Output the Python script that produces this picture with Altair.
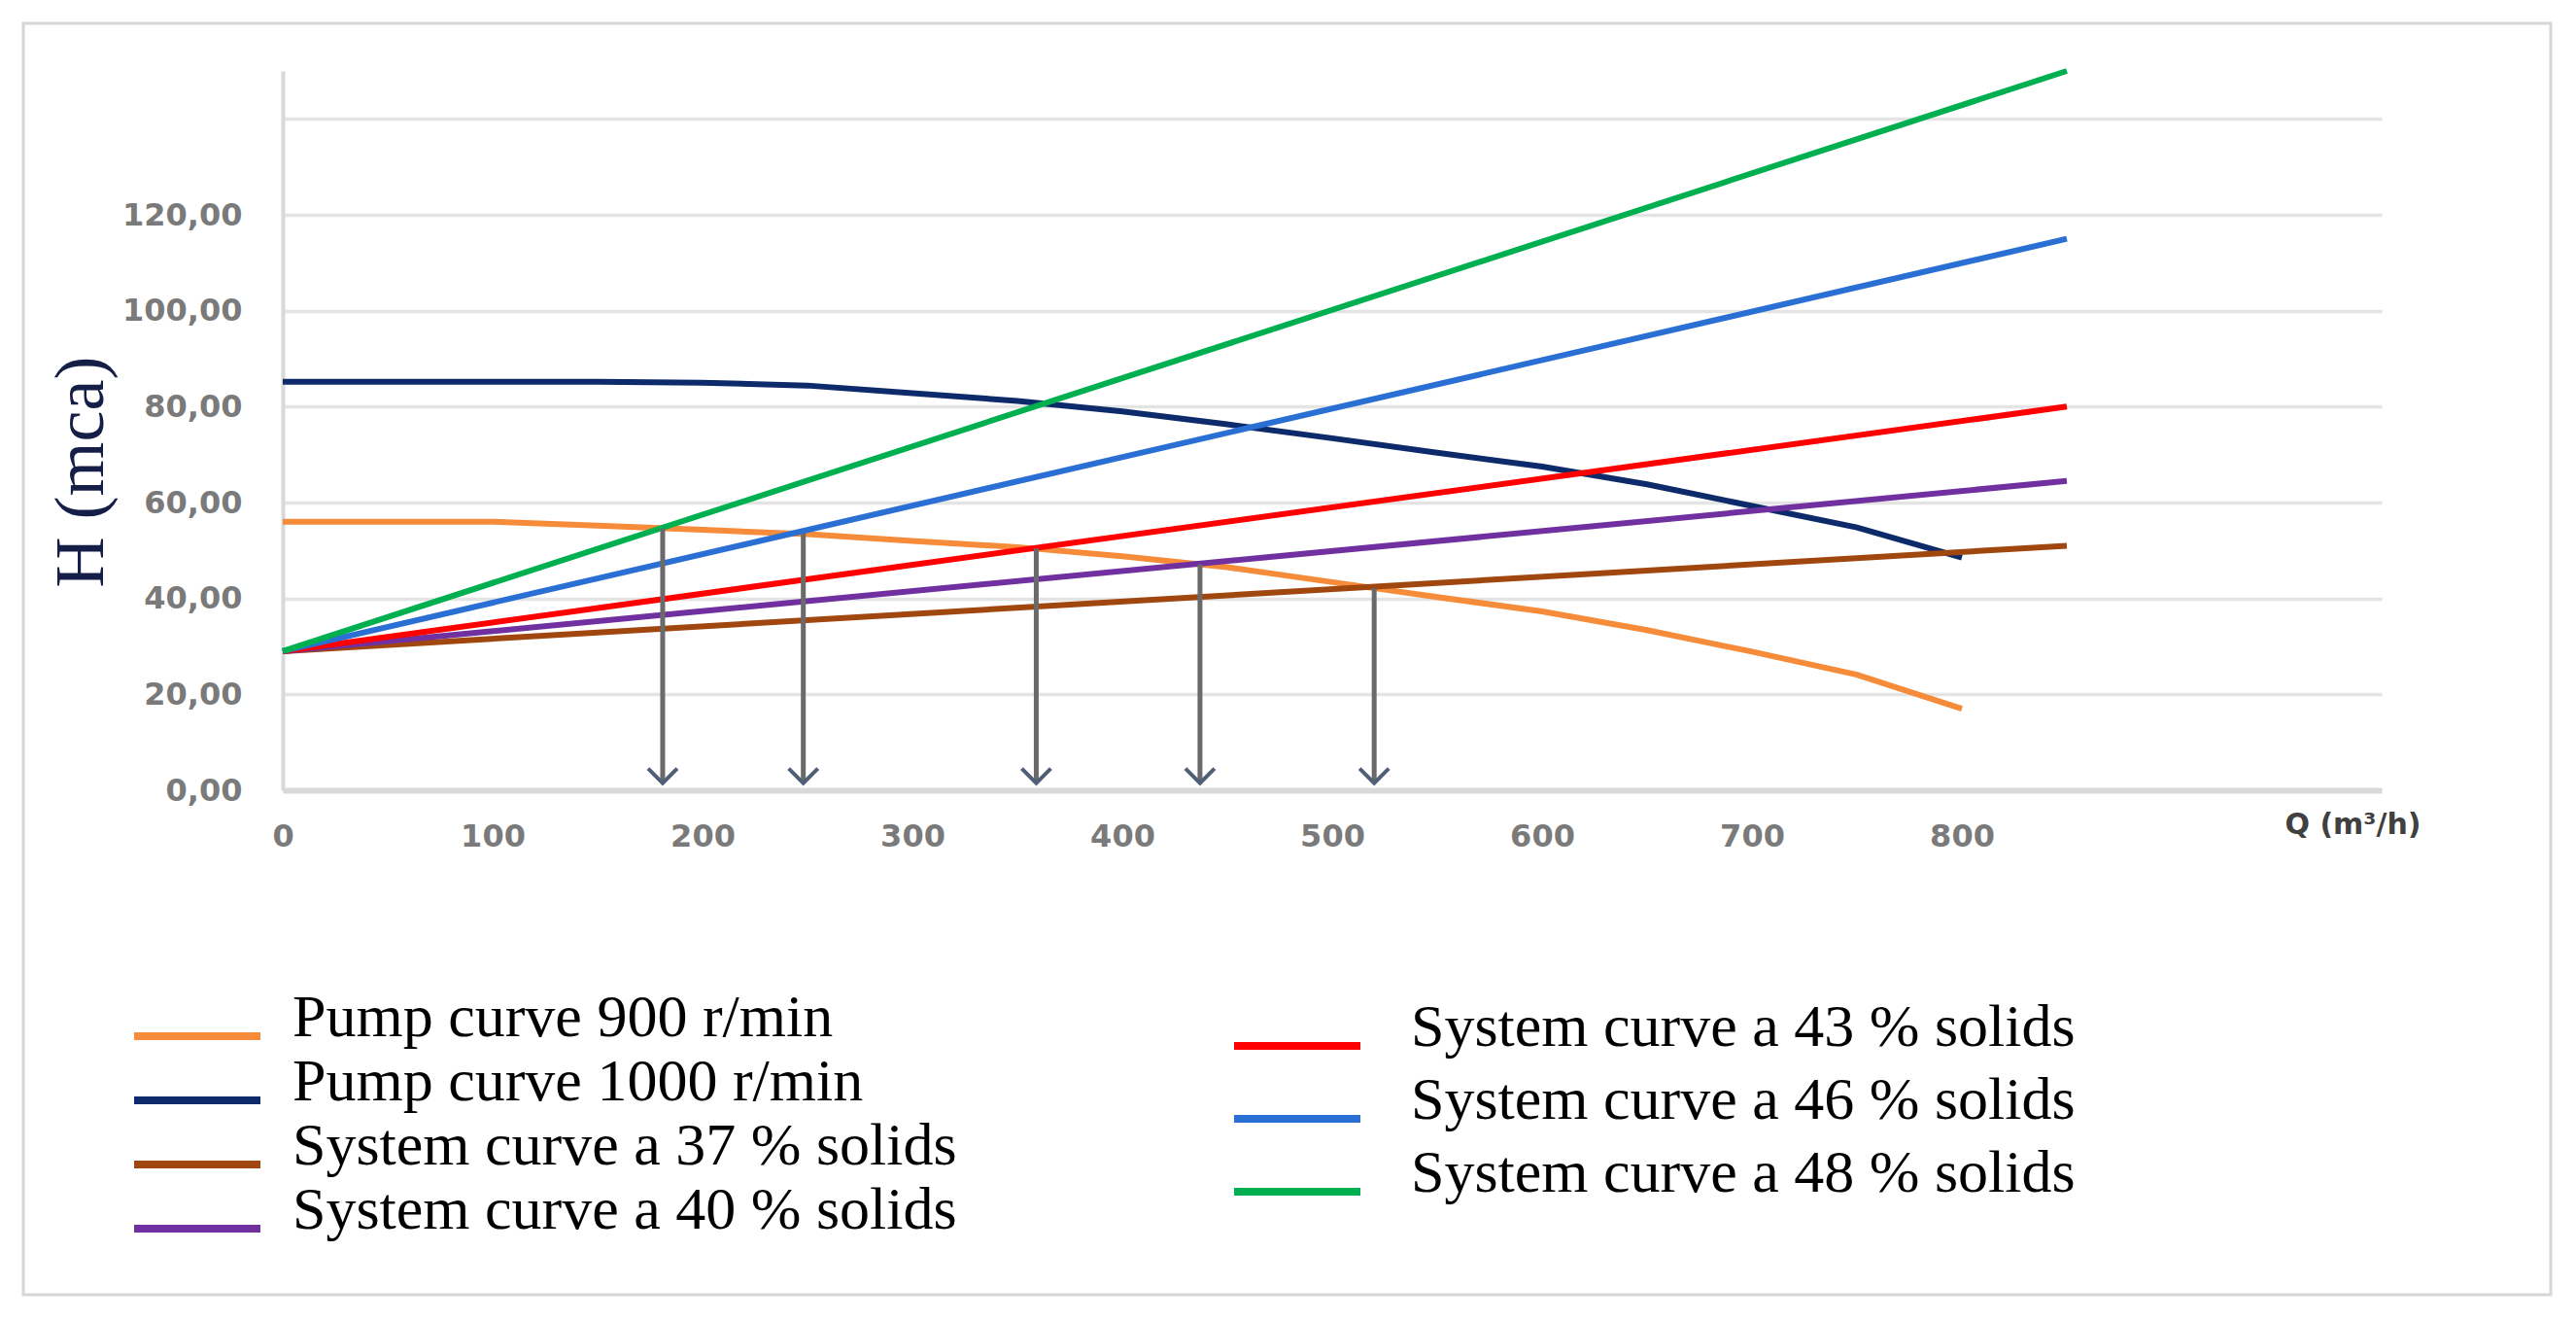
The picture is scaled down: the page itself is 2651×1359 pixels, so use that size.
import pandas as pd
import altair as alt

# Pump curves (flow Q in m3/h, head H in mca)
Q_PUMP = [0, 50, 100, 150, 200, 250, 300, 350, 400, 450, 500, 550, 600, 650, 700, 750, 800]
H_900 = [56.0, 56.0, 56.0, 55.2, 54.3, 53.4, 52.0, 50.7, 48.8, 46.5, 43.4, 40.3, 37.3, 33.4, 28.9, 24.1, 17.0]
H_1000 = [85.2, 85.2, 85.2, 85.2, 85.0, 84.4, 82.8, 81.2, 79.0, 76.3, 73.4, 70.4, 67.5, 63.8, 59.3, 54.8, 48.5]

# System curves are straight lines from the shared start to the end point
Q_SYS = [0, 850]
H_37 = [29.0, 51.0]
H_40 = [29.0, 64.5]
H_43 = [29.0, 80.0]
H_46 = [29.0, 115.0]
H_48 = [29.0, 150.0]

# Operating points marked with arrows
ARROW_Q = [181, 248, 359, 437, 520]
ARROW_H = [54.6, 53.5, 50.4, 47.1, 42.1]
ARROW_TIP = 1.5

LEFT_NAMES = ["Pump curve 900 r/min", "Pump curve 1000 r/min",
              "System curve a 37 % solids", "System curve a 40 % solids"]
LEFT_COLORS = ["#f68b39", "#0d2b6b", "#a0460f", "#7030a0"]
RIGHT_NAMES = ["System curve a 43 % solids", "System curve a 46 % solids",
               "System curve a 48 % solids"]
RIGHT_COLORS = ["#ff0000", "#2a6fd4", "#00b050"]

X_TICKS = [0, 100, 200, 300, 400, 500, 600, 700, 800]
Y_TICKS = [0, 20, 40, 60, 80, 100, 120, 140]

rows = []
for q, h in zip(Q_PUMP, H_900):
    rows.append({"series": LEFT_NAMES[0], "Q": q, "H": h})
for q, h in zip(Q_PUMP, H_1000):
    rows.append({"series": LEFT_NAMES[1], "Q": q, "H": h})
for name, hs in zip(LEFT_NAMES[2:], [H_37, H_40]):
    for q, h in zip(Q_SYS, hs):
        rows.append({"series": name, "Q": q, "H": h})
left_df = pd.DataFrame(rows)

rows = []
for name, hs in zip(RIGHT_NAMES, [H_43, H_46, H_48]):
    for q, h in zip(Q_SYS, hs):
        rows.append({"series": name, "Q": q, "H": h})
right_df = pd.DataFrame(rows)

arrows = pd.DataFrame({"Q": ARROW_Q, "H": ARROW_H, "tip": [ARROW_TIP] * len(ARROW_Q)})

x_scale = alt.Scale(domain=[0, 1000], nice=False, zero=False)
y_scale = alt.Scale(domain=[0, 150], nice=False)

x_axis = alt.Axis(
    values=X_TICKS, format="d", grid=False, ticks=False,
    domainColor="#d9d9d9", domainWidth=6,
    labelFont="DejaVu Sans", labelFontSize=32, labelFontWeight="bold",
    labelColor="#7a7a7a", labelPadding=32, labelFlush=False, labelOverlap=False,
    title="Q (m³/h)", titleFont="DejaVu Sans", titleFontSize=30,
    titleFontWeight="bold", titleColor="#404040",
    titleX=2130, titleY=35, titleAlign="center", titleBaseline="middle",
)
y_axis = alt.Axis(
    values=Y_TICKS, grid=True, gridColor="#e4e4e4", gridWidth=3.5, ticks=False,
    domainColor="#d9d9d9", domainWidth=4,
    labelExpr="datum.value > 130 ? '' : replace(format(datum.value, '.2f'), '.', ',')",
    labelFont="DejaVu Sans", labelFontSize=32, labelFontWeight="bold",
    labelColor="#7a7a7a", labelPadding=42, labelOverlap=False,
    title="H (mca)", titleFont="Liberation Serif", titleFontSize=72,
    titleFontWeight="normal", titleColor="#141e46",
    titleX=-171, titleY=412, titleAngle=-90, titleAlign="center", titleBaseline="bottom",
)

# legend key: a short size with a long horizontal path keeps the rows tight
legend_common = dict(
    title=None, orient="none", symbolType="M-6.5,0H6.5", symbolSize=400,
    symbolStrokeWidth=8, labelFont="Liberation Serif", labelFontSize=62,
    labelColor="black", labelLimit=2000, labelBaseline="alphabetic", padding=0,
)

frame = alt.Chart(pd.DataFrame({"k": [0]})).mark_rect(
    fillOpacity=0, stroke="#d6d6d6", strokeWidth=3
).encode(
    x=alt.value(-267), x2=alt.value(2334), y=alt.value(-49), y2=alt.value(1259)
)

left_lines = alt.Chart(left_df).mark_line(strokeWidth=6).encode(
    x=alt.X("Q:Q", scale=x_scale, axis=x_axis),
    y=alt.Y("H:Q", scale=y_scale, axis=y_axis),
    color=alt.Color(
        "series:N",
        scale=alt.Scale(domain=LEFT_NAMES, range=LEFT_COLORS),
        legend=alt.Legend(legendX=-119, legendY=962, labelOffset=67, rowPadding=0,
                          **legend_common),
    ),
    detail="series:N",
)

right_lines = alt.Chart(right_df).mark_line(strokeWidth=6).encode(
    x="Q:Q",
    y="H:Q",
    stroke=alt.Stroke(
        "series:N",
        scale=alt.Scale(domain=RIGHT_NAMES, range=RIGHT_COLORS),
        legend=alt.Legend(legendX=1013, legendY=972, labelOffset=86, rowPadding=9,
                          **legend_common),
    ),
    detail="series:N",
)

shafts = alt.Chart(arrows).mark_rule(color="#6a6a6a", strokeWidth=5).encode(
    x="Q:Q", y="H:Q", y2="tip:Q"
)
heads = alt.Chart(arrows).mark_point(
    shape="M-1,-1L0,0L1,-1", filled=False, size=900, strokeWidth=4,
    color="#4f5f78", opacity=1
).encode(x="Q:Q", y="tip:Q")

chart = alt.layer(frame, left_lines, right_lines, shafts, heads).properties(
    width=2160, height=740,
    autosize=alt.AutoSizeParams(type="none"),
    padding={"left": 283, "top": 65, "right": 192, "bottom": 538},
).configure_view(stroke=None)

chart.save("out.html", embed_options={"renderer": "svg", "actions": False})
